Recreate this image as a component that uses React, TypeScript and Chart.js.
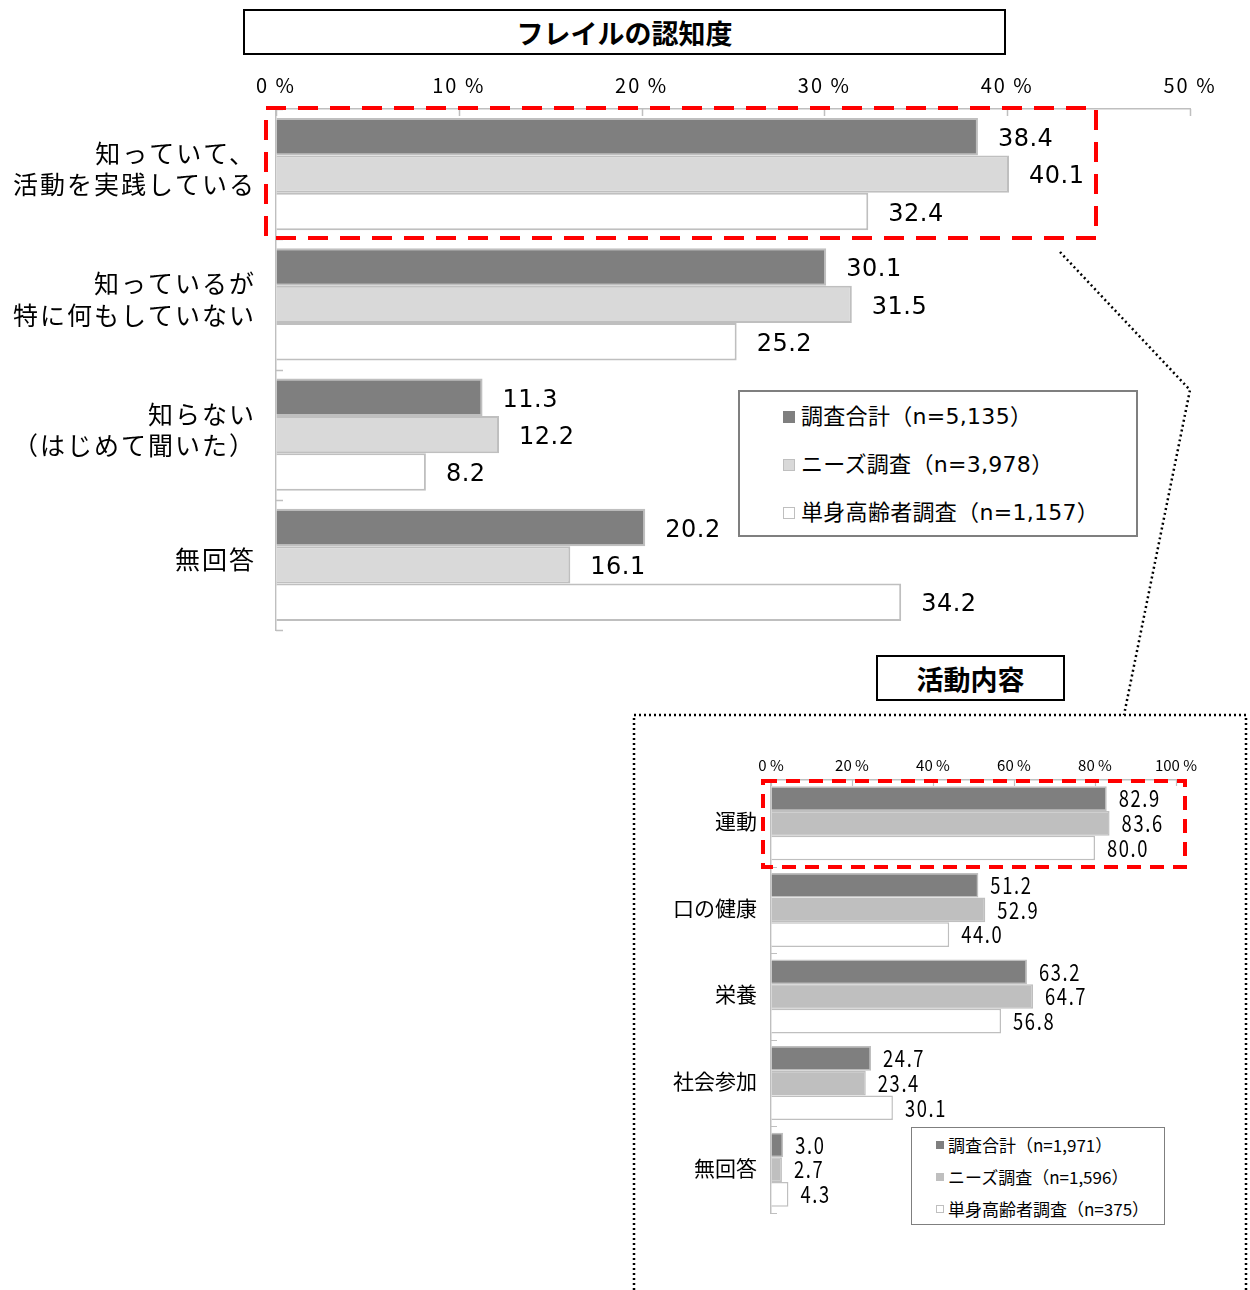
import React, { useEffect, useRef } from "react";
import { Chart, registerables } from "chart.js";
Chart.register(...registerables);

// ---------- data ----------
const topTitle = "フレイルの認知度";
const topCategories = [
  ["知っていて、", "活動を実践している"],
  ["知っているが", "特に何もしていない"],
  ["知らない", "（はじめて聞いた）"],
  ["無回答"],
];
const topSeriesNames = ["調査合計（n=5,135）", "ニーズ調査（n=3,978）", "単身高齢者調査（n=1,157）"];
const topTotal = [38.4, 30.1, 11.3, 20.2];
const topNeeds = [40.1, 31.5, 12.2, 16.1];
const topSingle = [32.4, 25.2, 8.2, 34.2];
const topAxisMax = 50;
const topAxisStep = 10;

const bottomTitle = "活動内容";
const bottomCategories = ["運動", "口の健康", "栄養", "社会参加", "無回答"];
const bottomSeriesNames = ["調査合計（n=1,971）", "ニーズ調査（n=1,596）", "単身高齢者調査（n=375）"];
const bottomTotal = [82.9, 51.2, 63.2, 24.7, 3.0];
const bottomNeeds = [83.6, 52.9, 64.7, 23.4, 2.7];
const bottomSingle = [80.0, 44.0, 56.8, 30.1, 4.3];
const bottomAxisMax = 100;
const bottomAxisStep = 20;

// ---------- styles ----------
const JP = '"Noto Sans CJK JP", "Noto Sans", sans-serif';
const LAT = '"DejaVu Sans", "Noto Sans CJK JP", sans-serif';
const topColors = ["#7f7f7f", "#d9d9d9", "#ffffff"];
const bottomColors = ["#7f7f7f", "#bfbfbf", "#ffffff"];
const borderGrey = "#bfbfbf";

const decoPlugin = {
  id: "deco",
  beforeDraw(chart: any, _args: any, opts: any) {
    (chart.ctx as any).letterSpacing = opts.axisSpacing;
  },
  afterDatasetsDraw(chart: any, _args: any, opts: any) {
    const { ctx, chartArea } = chart;
    const xs = chart.scales.x;
    ctx.save();
    ctx.strokeStyle = borderGrey;
    ctx.lineWidth = opts.tickWidth;
    ctx.beginPath();
    xs.ticks.forEach((t: any) => {
      const px = Math.round(xs.getPixelForValue(t.value)) + 0.5;
      ctx.moveTo(px, chartArea.top);
      ctx.lineTo(px, chartArea.top + opts.tickLen);
    });
    const n = chart.data.labels.length;
    for (let i = 0; i <= n; i++) {
      const py = Math.round(chartArea.top + ((chartArea.bottom - chartArea.top) * i) / n) + 0.5;
      ctx.moveTo(chartArea.left, py);
      ctx.lineTo(chartArea.left + opts.tickLen, py);
    }
    ctx.stroke();

    ctx.fillStyle = "#000";
    ctx.font = opts.font;
    ctx.letterSpacing = opts.labelSpacing;
    ctx.textBaseline = "middle";
    ctx.textAlign = "left";
    chart.data.datasets.forEach((ds: any, i: number) => {
      chart.getDatasetMeta(i).data.forEach((el: any, j: number) => {
        const txt = Number(ds.data[j]).toFixed(1);
        ctx.save();
        ctx.translate(el.x + opts.offset, el.y + opts.dy);
        ctx.scale(opts.sx, 1);
        ctx.fillText(txt, 0, 0);
        ctx.restore();
      });
    });
    ctx.restore();
  },
  afterDraw(chart: any) {
    (chart.ctx as any).letterSpacing = "0px";
  },
};

function makeConfig(p: any) {
  return {
    type: "bar",
    data: {
      labels: p.labels,
      datasets: p.series.map((d: number[], i: number) => ({
        label: p.names[i],
        data: d,
        backgroundColor: p.colors[i],
        borderColor: borderGrey,
        borderWidth: p.barBorder,
        borderSkipped: "start",
        categoryPercentage: p.catPct,
        barPercentage: 1.0,
      })),
    },
    plugins: [decoPlugin],
    options: {
      indexAxis: "y",
      animation: false,
      responsive: false,
      maintainAspectRatio: false,
      layout: { padding: p.padding },
      plugins: {
        legend: { display: false },
        tooltip: { enabled: false },
        deco: p.deco,
      },
      scales: {
        x: {
          position: "top",
          min: 0,
          max: p.max,
          ticks: {
            stepSize: p.step,
            callback: (v: any) => v + " %",
            font: { family: p.xFont, size: p.xSize },
            color: "#000",
            padding: p.xPad,
            maxRotation: 0,
            autoSkip: false,
          },
          grid: { drawOnChartArea: false, drawTicks: false },
          border: { color: borderGrey, width: 1.5 },
          afterFit: (s: any) => {
            s.height = p.xHeight;
            s.paddingLeft = 0;
            s.paddingRight = 0;
            s.paddingTop = 0;
            s.paddingBottom = 0;
          },
        },
        y: {
          ticks: {
            font: { family: JP, size: p.ySize, lineHeight: p.yLine },
            color: "#000",
            padding: p.yPad,
            labelOffset: p.yLabelOffset,
            autoSkip: false,
          },
          grid: { drawOnChartArea: false, drawTicks: false },
          border: { color: borderGrey, width: 1.5 },
          afterFit: (s: any) => {
            s.width = p.yWidth;
            s.paddingLeft = 0;
            s.paddingRight = 0;
            s.paddingTop = 0;
            s.paddingBottom = 0;
          },
        },
      },
    },
  };
}

function BarCanvas({ cfg, style, w, h }: any) {
  const ref = useRef<HTMLCanvasElement>(null);
  useEffect(() => {
    const chart = new Chart(ref.current as HTMLCanvasElement, makeConfig(cfg) as any);
    return () => chart.destroy();
  }, []);
  return <canvas ref={ref} width={w} height={h} style={{ position: "absolute", width: w, height: h, ...style }} />;
}

function Legend({ names, colors, box, rows, marker, markerLeft, textLeft, fontSize, border, spacing, family }: any) {
  return (
    <div
      style={{
        position: "absolute",
        left: box[0],
        top: box[1],
        width: box[2],
        height: box[3],
        border: `${border}px solid #7f7f7f`,
        boxSizing: "border-box",
        background: "#fff",
      }}
    >
      {names.map((n: string, i: number) => (
        <div
          key={n}
          style={{
            position: "absolute",
            left: 0,
            top: rows[i] - 16,
            height: 32,
            width: "100%",
          }}
        >
          <div
            style={{
              position: "absolute",
              left: markerLeft,
              top: 16 - marker / 2,
              width: marker,
              height: marker,
              boxSizing: "border-box",
              background: colors[i],
              border: `1px solid ${i === 0 ? colors[0] : borderGrey}`,
            }}
          />
          <div
            style={{
              position: "absolute",
              left: textLeft,
              top: 0,
              height: 32,
              lineHeight: "32px",
              fontSize,
              fontFamily: family,
              letterSpacing: spacing,
              color: "#000",
              whiteSpace: "nowrap",
            }}
          >
            {n}
          </div>
        </div>
      ))}
    </div>
  );
}

const topCfg = {
  labels: topCategories,
  names: topSeriesNames,
  series: [topTotal, topNeeds, topSingle],
  colors: topColors,
  barBorder: 2,
  catPct: 0.86,
  padding: { left: 0, right: 60, top: 0, bottom: 20 },
  max: topAxisMax,
  step: topAxisStep,
  xFont: JP,
  xSize: 20,
  xPad: 12,
  xHeight: 49,
  ySize: 25,
  yLine: 1.25,
  yPad: 20,
  yLabelOffset: -5,
  yWidth: 276,
  deco: {
    tickLen: 7,
    tickWidth: 1.5,
    font: `24px ${LAT}`,
    offset: 20,
    dy: 3,
    sx: 1,
    axisSpacing: "2px",
    labelSpacing: "0.5px",
  },
};

const bottomCfg = {
  labels: bottomCategories,
  names: bottomSeriesNames,
  series: [bottomTotal, bottomNeeds, bottomSingle],
  colors: bottomColors,
  barBorder: 1.5,
  catPct: 0.855,
  padding: { left: 0, right: 74, top: 0, bottom: 17 },
  max: bottomAxisMax,
  step: bottomAxisStep,
  xFont: JP,
  xSize: 15,
  xPad: 6,
  xHeight: 40,
  ySize: 21,
  yLine: 1.2,
  yPad: 14,
  yLabelOffset: -2,
  yWidth: 171,
  deco: {
    tickLen: 6,
    tickWidth: 1.2,
    font: `23px ${JP}`,
    offset: 12,
    dy: 0,
    sx: 0.8,
    axisSpacing: "0px",
    labelSpacing: "2px",
  },
};

export default function App() {
  return (
    <div
      style={{
        position: "absolute",
        left: 0,
        top: 0,
        width: 1250,
        height: 1290,
        background: "#fff",
        overflow: "hidden",
      }}
    >
      <div
        style={{
          position: "absolute",
          left: 243,
          top: 9,
          width: 763,
          height: 46,
          border: "2px solid #000",
          boxSizing: "border-box",
          display: "flex",
          alignItems: "center",
          justifyContent: "center",
          fontFamily: JP,
          fontWeight: 700,
          fontSize: 27,
        }}
      >
        {topTitle}
      </div>
      <BarCanvas cfg={topCfg} w={1250} h={590} style={{ left: 0, top: 60 }} />
      <Legend
        names={topSeriesNames}
        colors={topColors}
        box={[738, 390, 400, 147]}
        rows={[25, 73, 121]}
        marker={12}
        markerLeft={43}
        textLeft={61}
        fontSize={22}
        border={2}
        spacing="0.3px"
        family={LAT}
      />

      <div
        style={{
          position: "absolute",
          left: 876,
          top: 655,
          width: 189,
          height: 46,
          border: "2px solid #000",
          boxSizing: "border-box",
          display: "flex",
          alignItems: "center",
          justifyContent: "center",
          fontFamily: JP,
          fontWeight: 700,
          fontSize: 27,
        }}
      >
        {bottomTitle}
      </div>
      <BarCanvas cfg={bottomCfg} w={650} h={490} style={{ left: 600, top: 740 }} />
      <Legend
        names={bottomSeriesNames}
        colors={bottomColors}
        box={[911, 1127, 254, 98]}
        rows={[17, 49, 81]}
        marker={8}
        markerLeft={24}
        textLeft={36}
        fontSize={17}
        border={1.5}
        spacing="0px"
        family={JP}
      />

      <svg
        width={1250}
        height={1290}
        style={{ position: "absolute", left: 0, top: 0, pointerEvents: "none" }}
      >
        <rect x={266} y={108} width={830} height={130} fill="none" stroke="#ff0000" strokeWidth={4} strokeDasharray="20 12" />
        <rect x={763} y={781} width={422} height={86} fill="none" stroke="#ff0000" strokeWidth={4} strokeDasharray="14 9" />
        <polyline
          points="1060,252 1190,390 1124,715"
          fill="none"
          stroke="#000"
          strokeWidth={2.5}
          strokeDasharray="2 3"
        />
        <polyline
          points="634,1290 634,715 1246,715 1246,1290"
          fill="none"
          stroke="#000"
          strokeWidth={2.5}
          strokeDasharray="2 3"
        />
      </svg>
    </div>
  );
}
